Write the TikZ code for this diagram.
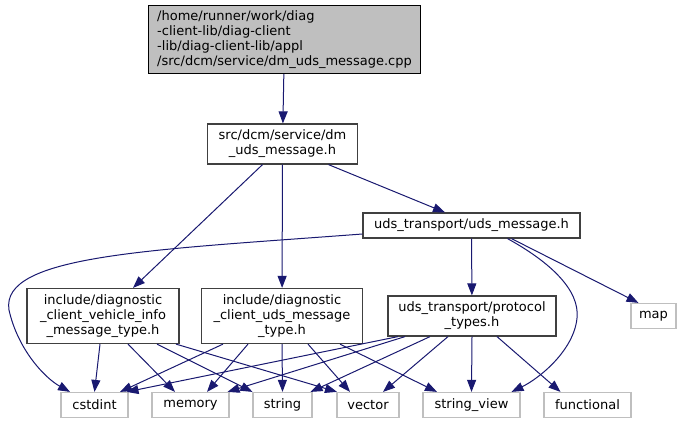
\documentclass[tikz,border=0pt]{standalone}
\usepackage{fontspec}
\setmainfont{DejaVu Sans}
\usetikzlibrary{arrows.meta}
\definecolor{dxedge}{HTML}{191970}
\definecolor{dxframe}{HTML}{404040}
\definecolor{dxsys}{HTML}{BFBFBF}
\definecolor{dxroot}{HTML}{BFBFBF}

\begin{document}
\begin{tikzpicture}[x=1pt, y=-1pt,
  font=\fontsize{13}{15}\selectfont,
  hdr/.style={draw=dxframe, line width=1.2pt, fill=white, inner sep=0pt,
              align=center, minimum height=#1},
  hdr/.default=25pt,
  rootfile/.style={hdr=68pt, draw=black, fill=dxroot, align=left},
  sysfile/.style={draw=dxsys, line width=1.2pt, fill=white, inner sep=0pt,
                  minimum height=25pt},
  edge/.style={draw=dxedge, line width=1pt, -{Triangle[length=12pt,width=9pt]}}]
  \useasboundingbox (0,0) rectangle (687,424);

  % files of the project
  \node[rootfile, minimum width=272pt] (src) at (284.5,39.5)
    {/home/runner/work/diag\\-client-lib/diag-client\\-lib/diag-client-lib/appl\\/src/dcm/service/dm\_uds\_message.cpp};
  \node[hdr=40pt, minimum width=150pt] (dmh) at (282.5,144) {src/dcm/service/dm\\\_uds\_message.h};
  \node[hdr, minimum width=217pt] (udsmsg) at (471.5,225.5) {uds\_transport/uds\_message.h};
  \node[hdr=55pt, minimum width=152pt] (vehinfo) at (103,316)
    {include/diagnostic\\\_client\_vehicle\_info\\\_message\_type.h};
  \node[hdr=55pt, minimum width=161pt] (msgtype) at (282,316)
    {include/diagnostic\\\_client\_uds\_message\\\_type.h};
  \node[hdr=40pt, minimum width=168pt] (proto) at (472,316) {uds\_transport/protocol\\\_types.h};

  % system headers
  \node[sysfile, minimum width=45pt] (map) at (653.5,316) {map};
  \node[sysfile, minimum width=67pt] (cstdint) at (94.5,405) {cstdint};
  \node[sysfile, minimum width=77pt] (memory) at (190.5,405) {memory};
  \node[sysfile, minimum width=59pt] (string) at (282.5,405) {string};
  \node[sysfile, minimum width=62pt] (vector) at (368,405) {vector};
  \node[sysfile, minimum width=97pt] (strview) at (471.5,405) {string\_view};
  \node[sysfile, minimum width=87pt] (functional) at (587.5,405) {functional};

  % includes
  \draw[edge] (src) -- (dmh);
  \draw[edge] ([xshift=-20pt]dmh.south) -- ([xshift=30pt]vehinfo.north);
  \draw[edge] (dmh) -- (msgtype);
  \draw[edge] ([xshift=46pt]dmh.south) -- ([xshift=-26.5pt]udsmsg.north);
  \draw[edge] (udsmsg) -- (proto);
  \draw[edge] ([xshift=40pt]udsmsg.south) -- ([xshift=-15pt]map.north);
  \draw[edge] ([yshift=-8.5pt]udsmsg.west) .. controls (150,250) and (0,255) .. (9,310)
    .. controls (18,350) and (45,378) .. ([xshift=-24.5pt]cstdint.north);
  \draw[edge] ([xshift=36pt]udsmsg.south) .. controls (550,262) and (580,290) .. (577,318)
    .. controls (574,350) and (540,378) .. ([xshift=40pt]strview.north);
  \foreach \a/\sa/\b/\sb in {vehinfo/-3/cstdint/0, vehinfo/25/memory/-15.5,
      vehinfo/54/string/-30, vehinfo/73/vector/-31,
      msgtype/-59/cstdint/25.5, msgtype/-34/memory/16.5, msgtype/0/string/0,
      msgtype/26/vector/-18, msgtype/58/strview/-34.5,
      proto/-74/cstdint/32, proto/-67/memory/37, proto/-42/string/28,
      proto/-24/vector/15, proto/0/strview/0, proto/25/functional/-27}
    \draw[edge] ([xshift=\sa pt]\a.south) -- ([xshift=\sb pt]\b.north);
\end{tikzpicture}
\end{document}
